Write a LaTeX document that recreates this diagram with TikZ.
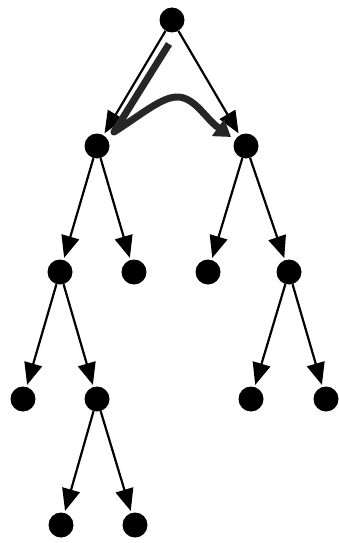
\documentclass[tikz,border=0pt]{standalone}
\usetikzlibrary{arrows.meta}
\begin{document}
\begin{tikzpicture}[x=1pt,y=-1pt,
  dot/.style={circle,fill=black,inner sep=0pt,minimum size=25pt},
  edge/.style={line width=2.2pt,-{Triangle[length=22pt,width=18pt]},shorten >=2pt},
  thickpath/.style={line width=7pt,draw=black!85,line join=round,-{Triangle[length=16pt,width=20pt]}}]
\useasboundingbox (0,0) rectangle (339,543);
\node[dot] (r) at (172,20) {};
\node[dot] (a) at (97,146) {};
\node[dot] (b) at (246,146) {};
\node[dot] (aa) at (60,272) {};
\node[dot] (ab) at (134,272) {};
\node[dot] (ba) at (208,272) {};
\node[dot] (bb) at (289,272) {};
\node[dot] (aaa) at (23,399) {};
\node[dot] (aab) at (97,399) {};
\node[dot] (bba) at (251,399) {};
\node[dot] (bbb) at (326,399) {};
\node[dot] (aaba) at (61,525) {};
\node[dot] (aabb) at (135,525) {};
\foreach \p/\c in {r/a,r/b,a/aa,a/ab,b/ba,b/bb,aa/aaa,aa/aab,bb/bba,bb/bbb,aab/aaba,aab/aabb}
  \draw[edge] (\p) -- (\c);
\coordinate (s) at (169,44);
\coordinate (k) at (114,132);
\coordinate (t) at (231,137);
\draw[thickpath] (s) -- (k) .. controls (145,112) and (163,96) .. (179,97) .. controls (196,99) and (205,118) .. (t);
\end{tikzpicture}
\end{document}
